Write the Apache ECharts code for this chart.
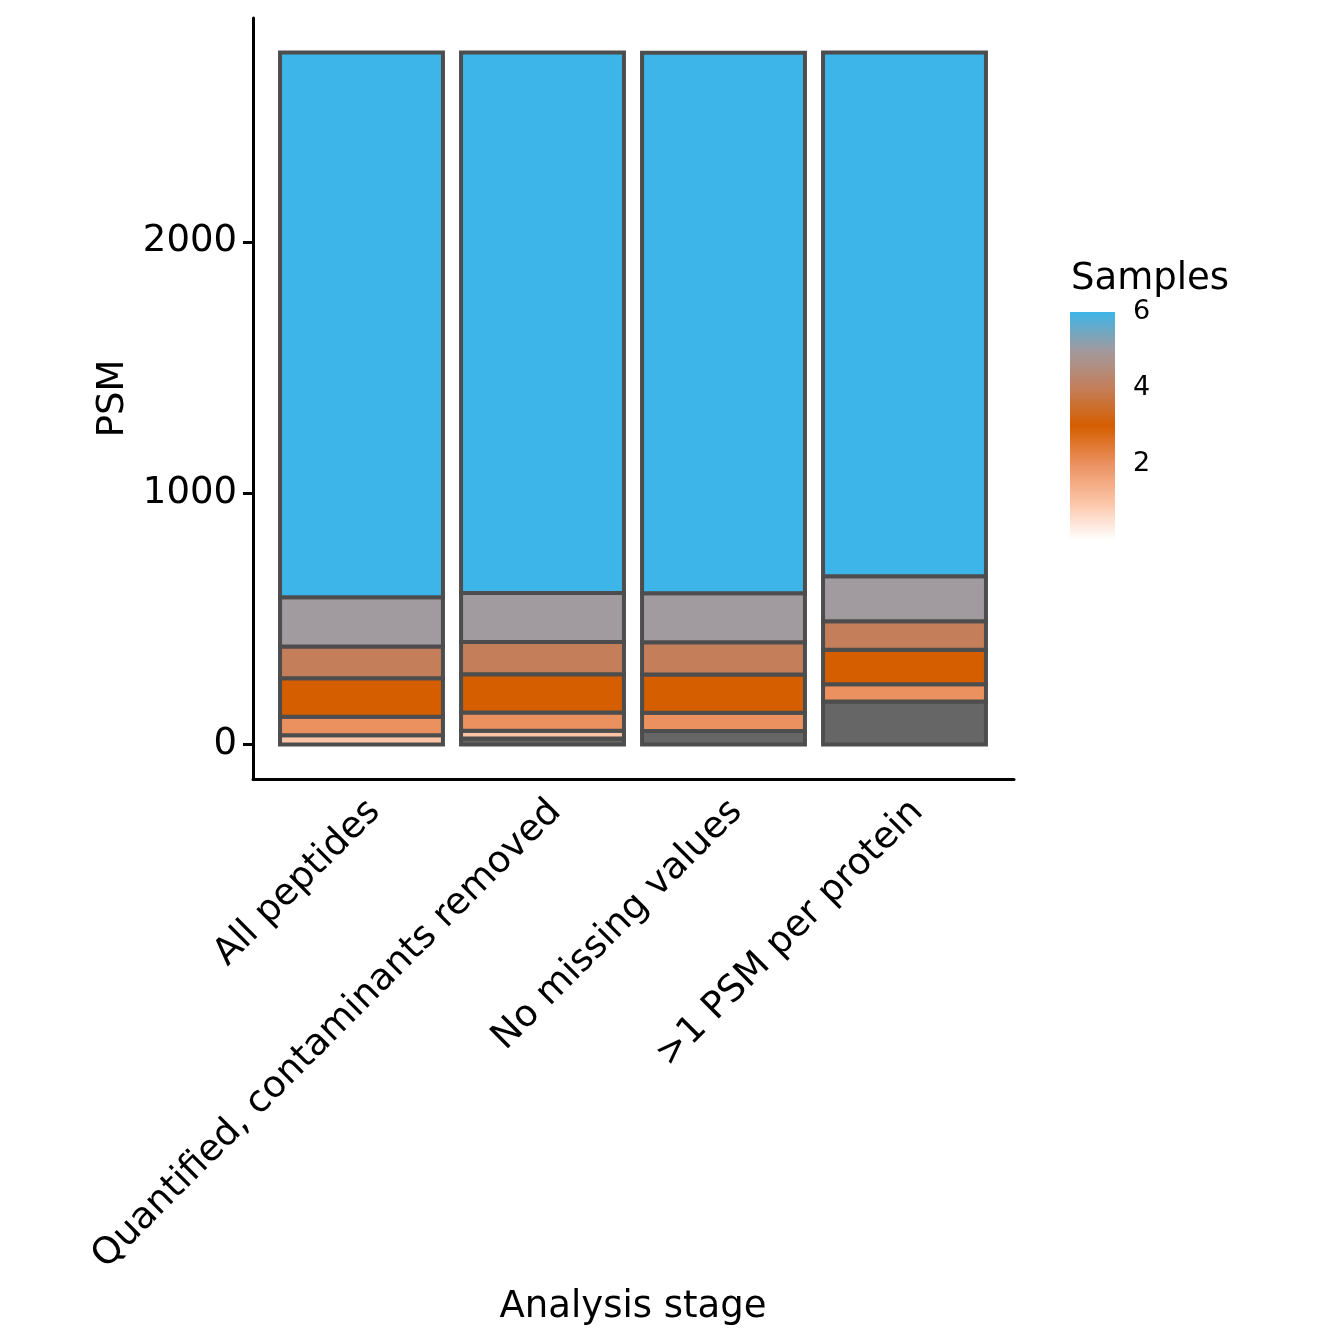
<!DOCTYPE html>
<html>
<head>
<meta charset="utf-8">
<script src="https://cdn.jsdelivr.net/npm/echarts@6/dist/echarts.min.js"></script>
<style>
  html, body { margin: 0; padding: 0; background: #fff; }
  #main { width: 1344px; height: 1344px; }
</style>
</head>
<body>
<div id="main"></div>
<script>
// stages on the x axis
var stages = ['All peptides', 'Quantified, contaminants removed', 'No missing values', '>1 PSM per protein'];

// PSM count per stage, split by number of samples (NA first = bottom of stack)
var psmNA = [0, 24, 53, 171];
var psm1 = [36, 30, 0, 0];
var psm2 = [74, 73, 73, 68];
var psm3 = [153, 152, 152, 138];
var psm4 = [127, 129, 129, 113];
var psm5 = [196, 195, 195, 179];
var psm6 = [2167, 2150, 2150, 2084];

var yTicks = [0, 1000, 2000];
var sampleTicks = [2, 4, 6];
var sampleRange = [0, 6];

// colour scale: value 0..6, plus NA
var palette = ['#FFFFFF', '#FCC4A6', '#EB9160', '#D55E00', '#C47E5A', '#A19A9F', '#3DB5E8'];
var naColor = '#666666';
var font = 'DejaVu Sans';

var levels = [
    { name: 'NA', data: psmNA, color: naColor },
    { name: '1', data: psm1, color: palette[1] },
    { name: '2', data: psm2, color: palette[2] },
    { name: '3', data: psm3, color: palette[3] },
    { name: '4', data: psm4, color: palette[4] },
    { name: '5', data: psm5, color: palette[5] },
    { name: '6', data: psm6, color: palette[6] }
];

// stacked segments: [stage index, bottom, top, level index]
var segments = [];
var totals = stages.map(function (s, i) {
    var base = 0;
    levels.forEach(function (l, k) {
        var v = l.data[i];
        if (v > 0) {
            segments.push([i, base, base + v, k]);
            base += v;
        }
    });
    return base;
});

// y range like ggplot: 5% expansion
var maxTotal = Math.max.apply(null, totals);
var yMin = -0.05 * maxTotal;
var yMax = 1.05 * maxTotal;

function renderSegment(params, api) {
    var i = api.value(0);
    var p0 = api.coord([i, api.value(1)]);
    var p1 = api.coord([i, api.value(2)]);
    var w = api.size([1, 0])[0] * 0.9;
    return {
        type: 'rect',
        shape: { x: p0[0] - w / 2, y: p1[1], width: w, height: p0[1] - p1[1] },
        style: {
            fill: levels[api.value(3)].color,
            stroke: '#4D4D4D',
            lineWidth: 4
        }
    };
}

var series = [{
    type: 'custom',
    xAxisIndex: 0,
    yAxisIndex: 0,
    renderItem: renderSegment,
    encode: { x: 0, y: [1, 2] },
    clip: false,
    data: segments
}];

// colour bar for legend
series.push({
    type: 'bar',
    xAxisIndex: 2,
    yAxisIndex: 2,
    barWidth: '100%',
    silent: true,
    itemStyle: {
        color: {
            type: 'linear', x: 0, y: 1, x2: 0, y2: 0,
            colorStops: palette.map(function (c, i) { return { offset: i / (palette.length - 1), color: c }; })
        }
    },
    data: [sampleRange[1]]
});

var myChart = echarts.init(document.getElementById('main'));
var option = {
    animation: false,
    backgroundColor: '#fff',
    textStyle: { fontFamily: font },
    title: {
        text: 'Samples',
        left: 1066,
        top: 256,
        textStyle: { fontFamily: font, fontSize: 37, fontWeight: 'normal', color: '#000' }
    },
    grid: [
        { left: 271, width: 724, top: 18, height: 761 },
        { left: 253, width: 761, top: 18, height: 761 },
        { left: 1070, width: 45, top: 312, height: 228 }
    ],
    xAxis: [
        {
            type: 'category',
            gridIndex: 0,
            data: stages,
            axisLine: { show: false },
            axisTick: { alignWithLabel: true, length: 10, lineStyle: { color: '#000', width: 3 } },
            axisLabel: {
                rotate: 45, color: '#000', fontSize: 37, margin: 14, fontFamily: font,
                align: 'right', verticalAlign: 'top'
            },
            name: 'Analysis stage',
            nameLocation: 'middle',
            nameGap: 510,
            nameTextStyle: { color: '#000', fontSize: 37, fontFamily: font }
        },
        {
            type: 'value',
            gridIndex: 1,
            min: 0, max: 1,
            axisLine: { show: true, onZero: false, lineStyle: { color: '#000', width: 3 } },
            axisTick: { show: false },
            axisLabel: { show: false },
            splitLine: { show: false }
        },
        {
            type: 'category',
            gridIndex: 2,
            data: ['Samples'],
            show: false
        }
    ],
    yAxis: [
        {
            type: 'value',
            gridIndex: 0,
            min: yMin,
            max: yMax,
            offset: 18,
            axisLine: { show: true, onZero: false, lineStyle: { color: '#000', width: 3 } },
            axisTick: { show: true, customValues: yTicks, length: 10, lineStyle: { color: '#000', width: 3 } },
            axisLabel: {
                customValues: yTicks, color: '#000', fontSize: 37, margin: 16, fontFamily: font,
                formatter: function (v) { return String(v); }
            },
            splitLine: { show: false },
            name: 'PSM',
            nameLocation: 'middle',
            nameGap: 120,
            nameTextStyle: { color: '#000', fontSize: 37, fontFamily: font }
        },
        {
            type: 'value',
            gridIndex: 1,
            show: false,
            min: 0, max: 1
        },
        {
            type: 'value',
            gridIndex: 2,
            position: 'right',
            min: sampleRange[0],
            max: sampleRange[1],
            axisLine: { show: false },
            axisTick: { show: true, inside: true, customValues: [2, 4], length: 9, lineStyle: { color: '#fff', width: 1.5 } },
            axisLabel: { customValues: sampleTicks, color: '#000', fontSize: 27, margin: 18, fontFamily: font },
            splitLine: { show: false }
        },
        {
            type: 'value',
            gridIndex: 2,
            position: 'left',
            min: sampleRange[0],
            max: sampleRange[1],
            axisLine: { show: false },
            axisTick: { show: true, inside: true, customValues: [2, 4], length: 9, lineStyle: { color: '#fff', width: 1.5 } },
            axisLabel: { show: false },
            splitLine: { show: false }
        }
    ],
    series: series
};
myChart.setOption(option);
</script>
</body>
</html>
